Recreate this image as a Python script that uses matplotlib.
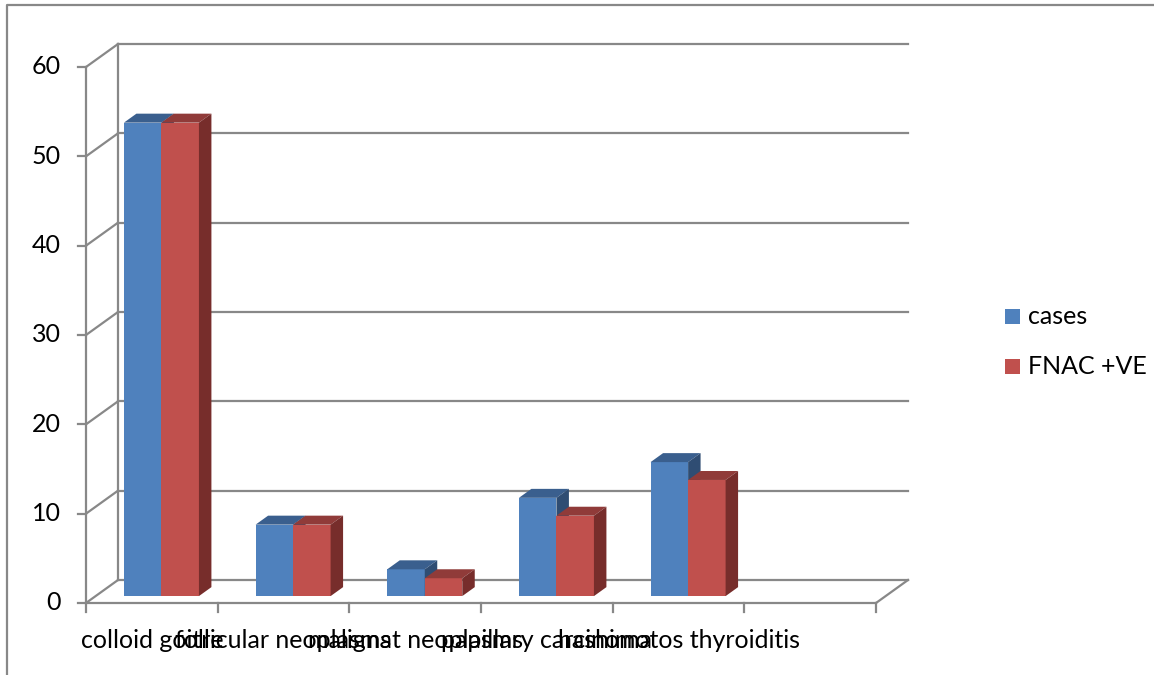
import matplotlib.pyplot as plt
from matplotlib.patches import Polygon, Rectangle

plt.rcParams['font.family'] = ['Lato', 'DejaVu Sans']

categories = ['colloid goitre', 'follicular neoplasms', 'malignat neoplasms',
              'papillary carcinoma', 'hashimotos thyroiditis', '']
cases = [53, 8, 3, 11, 15, 0]
fnac_pos = [53, 8, 2, 9, 13, 0]
series_names = ['cases', 'FNAC +VE']
yticks = [0, 10, 20, 30, 40, 50, 60]

# face colours: front, top, side
blue = ('#4f81bd', '#3a5f8e', '#2f4d73')
red = ('#c0504d', '#903b39', '#772d2b')
grid_col = '#888888'
fs = 18

W, H = 1154, 675
fig = plt.figure(figsize=(W / 100, H / 100), dpi=100)

# plot area in pixels: floor front edge x 86..876, value 0..60 at y 603..67
x0, x1, y0, y1 = 86, 876, 603, 67
ax = fig.add_axes([x0 / W, (H - y0) / H, (x1 - x0) / W, (y0 - y1) / H])
ncat = len(categories)
ax.set_xlim(0, ncat)
ax.set_ylim(0, 60)
ax.axis('off')

px_x = (x1 - x0) / ncat      # pixels per category
px_y = (y0 - y1) / 60        # pixels per unit
DX = 32 / px_x               # depth of the floor, in data units
DY = 23 / px_y

kw = dict(clip_on=False)

# back wall gridlines and the diagonal links to the front axis
for v in yticks:
    ax.plot([DX, ncat + DX], [v + DY, v + DY], color=grid_col, lw=1.6, zorder=1, **kw)
    ax.plot([0, DX], [v, v + DY], color=grid_col, lw=1.6, zorder=1, **kw)
ax.plot([DX, DX], [DY, 60 + DY], color=grid_col, lw=1.6, zorder=1, **kw)
# floor
ax.plot([0, ncat], [0, 0], color=grid_col, lw=1.6, zorder=1, **kw)
ax.plot([ncat, ncat + DX], [0, DY], color=grid_col, lw=1.6, zorder=1, **kw)
# front value axis
ax.plot([0, 0], [0, 60], color=grid_col, lw=1.6, zorder=1, **kw)

tick_len_x = 8 / px_x
tick_len_y = 9 / px_y
for v in yticks:
    ax.plot([-tick_len_x, 0], [v, v], color=grid_col, lw=1.6, **kw)
    ax.text(-25 / px_x, v, str(v), ha='right', va='center', fontsize=fs, color='black')
for i in range(ncat + 1):
    ax.plot([i, i], [0, -tick_len_y], color=grid_col, lw=1.6, **kw)
for i, lab in enumerate(categories):
    ax.text(i + 0.5, -37 / px_y, lab, ha='center', va='center', fontsize=fs, color='black')

# 3-D columns
d0, d1 = 0.3, 0.39           # bar front depth and bar thickness (fraction of floor depth)
bw = 37.5 / px_x
ox, oy = d0 * DX, d0 * DY
bx, by = d1 * DX, d1 * DY


def column(xl, val, cols, z):
    ax.bar(xl, val, width=bw, bottom=oy, align='edge', color=cols[0],
           linewidth=0, zorder=z, **kw)
    top = oy + val
    ax.add_patch(Polygon([(xl, top), (xl + bw, top), (xl + bw + bx, top + by), (xl + bx, top + by)],
                         closed=True, facecolor=cols[1], edgecolor='none', zorder=z, **kw))
    ax.add_patch(Polygon([(xl + bw, oy), (xl + bw + bx, oy + by), (xl + bw + bx, top + by), (xl + bw, top)],
                         closed=True, facecolor=cols[2], edgecolor='none', zorder=z, **kw))


z = 3
for i in range(ncat):
    if cases[i] == 0 and fnac_pos[i] == 0:
        continue
    c = i + 0.5 + ox
    column(c - bw, cases[i], blue, z)
    column(c, fnac_pos[i], red, z + 1)
    z += 2

# legend
for k, (name, cols) in enumerate(zip(series_names, (blue, red))):
    yc = 316 + k * 50
    fig.add_artist(Rectangle((1005 / W, (H - yc - 7.5) / H), 15 / W, 15 / H,
                             transform=fig.transFigure, facecolor=cols[0], edgecolor='none'))
    fig.text(1028 / W, (H - yc) / H, name, ha='left', va='center', fontsize=fs)

# chart border (top and left edges visible)
fig.add_artist(plt.Line2D([7 / W, 7 / W, 1.0], [0.0, (H - 5) / H, (H - 5) / H],
                          transform=fig.transFigure, color=grid_col, lw=1.6))

fig.savefig('out.png', dpi=100, facecolor='white')
